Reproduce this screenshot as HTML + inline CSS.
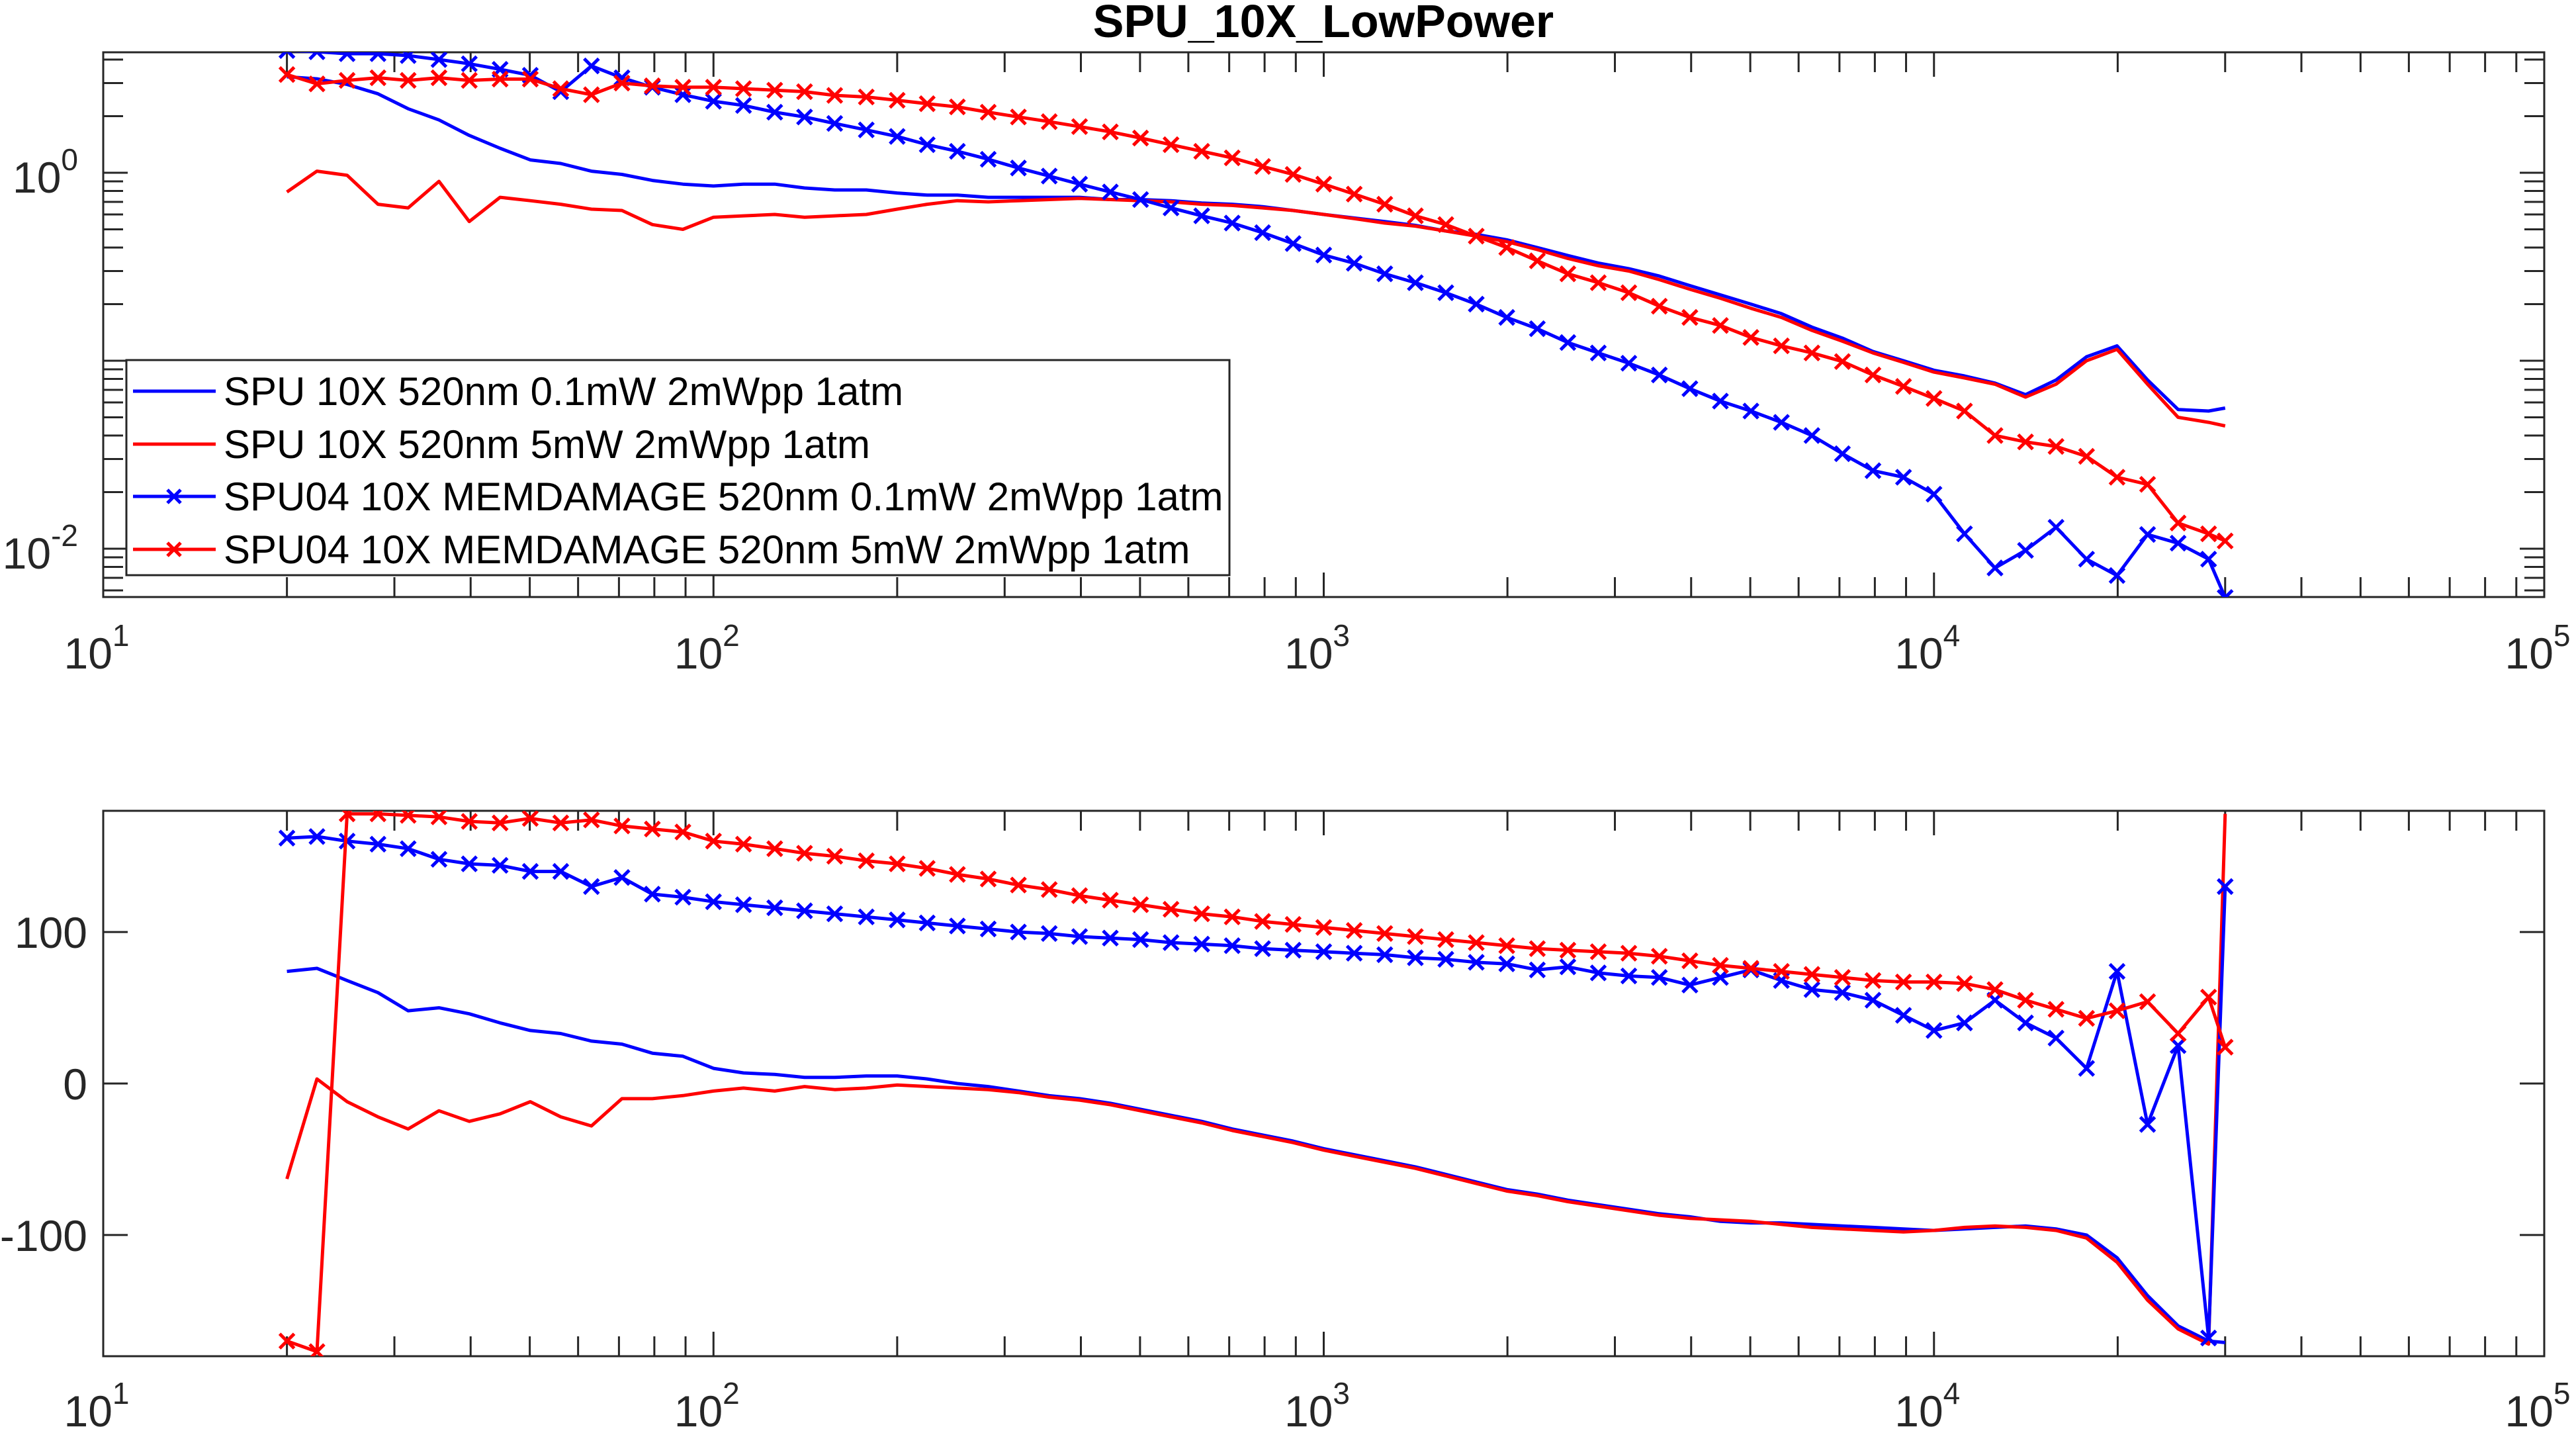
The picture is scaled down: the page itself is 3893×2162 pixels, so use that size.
<!DOCTYPE html>
<html><head><meta charset="utf-8">
<style>
html,body{margin:0;padding:0;background:#fff;}
svg{display:block;font-family:"Liberation Sans",Arial,sans-serif;}
</style></head>
<body>
<svg id="chart" width="3893" height="2162" viewBox="0 0 3893 2162" xmlns="http://www.w3.org/2000/svg">
<rect width="3893" height="2162" fill="#fff"/>
<text x="2000" y="56" font-size="70" font-weight="bold" text-anchor="middle" fill="#000">SPU_10X_LowPower</text>
<defs>
<clipPath id="clipTop"><rect x="156" y="79" width="3689" height="823"/></clipPath>
<clipPath id="clipBot"><rect x="156" y="1225" width="3689" height="824"/></clipPath>
</defs>
<g id="axTop"></g>
<g id="axBot"></g>
<g id="linesTop" clip-path="url(#clipTop)"></g>
<g id="linesBot" clip-path="url(#clipBot)"></g>
<g id="legend">
  <rect x="191" y="544" width="1667" height="325" fill="#fff" stroke="#262626" stroke-width="3"/>
  <g>
    <line x1="201" y1="591" x2="326" y2="591" stroke="#0000ff" stroke-width="5"/>
    <text x="338" y="612" font-size="60" fill="#000">SPU 10X 520nm 0.1mW 2mWpp 1atm</text>
  </g>
  <g>
    <line x1="201" y1="671" x2="326" y2="671" stroke="#ff0000" stroke-width="5"/>
    <text x="338" y="692" font-size="60" fill="#000">SPU 10X 520nm 5mW 2mWpp 1atm</text>
  </g>
  <g>
    <line x1="201" y1="750" x2="326" y2="750" stroke="#0000ff" stroke-width="5"/>
    <path d="M253,740 L273,760 M273,740 L253,760" stroke="#0000ff" stroke-width="5"/>
    <text x="338" y="771" font-size="60" fill="#000">SPU04 10X MEMDAMAGE 520nm 0.1mW 2mWpp 1atm</text>
  </g>
  <g>
    <line x1="201" y1="830" x2="326" y2="830" stroke="#ff0000" stroke-width="5"/>
    <path d="M253,820 L273,840 M273,820 L253,840" stroke="#ff0000" stroke-width="5"/>
    <text x="338" y="851" font-size="60" fill="#000">SPU04 10X MEMDAMAGE 520nm 5mW 2mWpp 1atm</text>
  </g>
</g>
</svg>
<script>
const freqs=[20,22.4,25.1,28.2,31.6,35.5,39.8,44.7,50.1,56.2,63.1,70.8,79.4,89.1,100,112,126,141,158,178,200,224,251,282,316,355,398,447,501,562,631,708,794,891,1000,1122,1259,1413,1585,1778,1995,2239,2512,2818,3162,3548,3981,4467,5012,5623,6310,7079,7943,8913,10000,11220,12589,14125,15849,17783,19953,22387,25119,28184,30000];
const magSpu01=[3.24,3.16,2.95,2.63,2.19,1.91,1.58,1.35,1.17,1.12,1.02,0.98,0.91,0.87,0.85,0.87,0.87,0.83,0.81,0.81,0.78,0.76,0.76,0.74,0.74,0.74,0.74,0.72,0.72,0.71,0.69,0.68,0.66,0.63,0.60,0.575,0.55,0.525,0.49,0.47,0.44,0.40,0.363,0.331,0.309,0.282,0.251,0.224,0.2,0.178,0.151,0.132,0.112,0.1,0.089,0.083,0.076,0.066,0.079,0.105,0.12,0.079,0.055,0.054,0.056];
const magSpu5=[0.79,1.02,0.97,0.68,0.65,0.9,0.55,0.74,0.71,0.68,0.64,0.63,0.53,0.50,0.58,0.59,0.60,0.58,0.59,0.60,0.64,0.68,0.71,0.70,0.71,0.72,0.73,0.72,0.71,0.70,0.68,0.67,0.65,0.63,0.60,0.57,0.54,0.52,0.49,0.46,0.43,0.39,0.35,0.32,0.30,0.27,0.24,0.215,0.19,0.17,0.145,0.127,0.11,0.098,0.087,0.081,0.075,0.064,0.075,0.1,0.115,0.075,0.05,0.047,0.045];
const magSpu04_01=[4.47,4.4,4.3,4.3,4.2,4.0,3.8,3.55,3.3,2.7,3.7,3.2,2.85,2.6,2.4,2.28,2.1,1.98,1.83,1.69,1.56,1.41,1.3,1.18,1.06,0.96,0.87,0.79,0.72,0.65,0.59,0.54,0.48,0.42,0.365,0.33,0.29,0.26,0.23,0.2,0.17,0.148,0.125,0.11,0.097,0.084,0.071,0.061,0.054,0.047,0.04,0.032,0.026,0.024,0.0195,0.012,0.0079,0.0098,0.013,0.0088,0.0072,0.0119,0.0107,0.0088,0.0055];
const magSpu04_5=[3.33,2.97,3.1,3.2,3.1,3.2,3.1,3.15,3.15,2.8,2.6,3.0,2.9,2.85,2.85,2.8,2.75,2.7,2.58,2.53,2.43,2.33,2.24,2.1,1.98,1.87,1.76,1.65,1.53,1.41,1.3,1.2,1.08,0.98,0.87,0.77,0.68,0.59,0.53,0.46,0.4,0.34,0.29,0.26,0.23,0.195,0.17,0.154,0.133,0.12,0.11,0.099,0.084,0.073,0.063,0.054,0.04,0.037,0.035,0.031,0.024,0.022,0.0137,0.012,0.011];
const phSpu01=[74,76,68,60,48,50,46,40,35,33,28,26,20,18,10,7,6,4,4,5,5,3,0,-2,-5,-8,-10,-13,-17,-21,-25,-30,-34,-38,-43,-47,-51,-55,-60,-65,-70,-73,-77,-80,-83,-86,-88,-91,-92,-92,-93,-94,-95,-96,-97,-96,-95,-94,-96,-100,-115,-140,-160,-170,-171];
const phSpu5=[-63,3,-12,-22,-30,-18,-25,-20,-12,-22,-28,-10,-10,-8,-5,-3,-5,-2,-4,-3,-1,-2,-3,-4,-6,-9,-11,-14,-18,-22,-26,-31,-35,-39,-44,-48,-52,-56,-61,-66,-71,-74,-78,-81,-84,-87,-89,-90,-91,-93,-95,-96,-97,-98,-97,-95,-94,-95,-97,-102,-118,-143,-162,-172,178];
const phSpu04_01=[162,163,160,158,155,148,145,144,140,140,130,136,125,123,120,118,116,114,112,110,108,106,104,102,100,99,97,96,95,93,92,91,89,88,87,86,85,83,82,80,79,75,77,73,71,70,65,70,75,68,62,60,55,45,35,40,55,40,30,10,74,-27,25,-168,130];
const phSpu04_5=[-170,-177,178,178,177,176,173,172,175,172,174,170,168,166,160,158,155,152,150,147,145,142,138,135,131,128,124,121,118,115,112,110,107,105,103,101,99,97,95,93,91,89,88,87,86,84,81,78,76,74,72,70,68,67,67,66,62,55,49,43,48,54,33,57,24];
const xTickExps=[1,2,3,4,5];
const magTickExps=[-2,0];
const phTicks=[-100,0,100];

const NS="http://www.w3.org/2000/svg";
const X0=156,X1=3845,TOP0=79,TOP1=902,BOT0=1225,BOT1=2049;
const xs=f=>X0+(Math.log10(f)-1)/4*(X1-X0);
const yMag=v=>261-(Math.log10(v))*284;
const yPh=v=>BOT0+(180-v)/360*(BOT1-BOT0);
function mk(tag,attrs,parent){const e=document.createElementNS(NS,tag);for(const k in attrs)e.setAttribute(k,attrs[k]);parent.appendChild(e);return e;}
const C="#262626";

function axes(g,y0,y1){
  const box=mk('rect',{x:X0,y:y0,width:X1-X0,height:y1-y0,fill:'none',stroke:C,'stroke-width':3},g);
  
  
  for(let d=1;d<5;d++){for(let m=1;m<10;m++){const f=m*Math.pow(10,d);const x=xs(f);const L=m===1?37:30;
    mk('line',{x1:x,y1:y1,x2:x,y2:y1-L,stroke:C,'stroke-width':3},g);
    mk('line',{x1:x,y1:y0,x2:x,y2:y0+L,stroke:C,'stroke-width':3},g);}}
  xTickExps.forEach(e=>{const x=xs(Math.pow(10,e));
    const t=mk('text',{x:x-10,y:y1+(y0<1000?108:106),'font-size':66,'text-anchor':'middle',fill:C},g);
    
    
    t.textContent='10';const s=mk('tspan',{dy:-34,'font-size':46},t);s.textContent=e;});
}
const gT=document.getElementById('axTop');
axes(gT,TOP0,TOP1);
for(let e=-3;e<1;e++){for(let m=1;m<10;m++){const v=m*Math.pow(10,e);const y=yMag(v);if(y<TOP0||y>TOP1)continue;const L=m===1?37:30;
  mk('line',{x1:X0,y1:y,x2:X0+L,y2:y,stroke:C,'stroke-width':3},gT);
  mk('line',{x1:X1,y1:y,x2:X1-L,y2:y,stroke:C,'stroke-width':3},gT);}}
magTickExps.forEach(e=>{const y=yMag(Math.pow(10,e));
  const t=mk('text',{x:118,y:y+30,'font-size':66,'text-anchor':'end',fill:C},gT);
  
  
  t.textContent='10';
  const s=mk('tspan',{dy:-34,'font-size':46},t);s.textContent=e;});
const gB=document.getElementById('axBot');
axes(gB,BOT0,BOT1);
phTicks.forEach(v=>{const y=yPh(v);
  mk('line',{x1:X0,y1:y,x2:X0+37,y2:y,stroke:C,'stroke-width':3},gB);
  mk('line',{x1:X1,y1:y,x2:X1-37,y2:y,stroke:C,'stroke-width':3},gB);
  const t=mk('text',{x:132,y:y+24,'font-size':66,'text-anchor':'end',fill:C},gB);
  
  
  t.textContent=String(v);});

function series(g,vals,yf,color,marker,name){
  const pts=freqs.map((f,i)=>[xs(f),yf(vals[i])]);
  const p=mk('polyline',{points:pts.map(p=>p[0].toFixed(1)+','+p[1].toFixed(1)).join(' '),fill:'none',stroke:color,'stroke-width':5,'stroke-linejoin':'round'},g);
  
  
  if(marker){pts.forEach(([x,y])=>{const m=mk('path',{d:`M${x-11},${y-11}L${x+11},${y+11}M${x+11},${y-11}L${x-11},${y+11}`,stroke:color,'stroke-width':5},g);
    
    });}
}
const lT=document.getElementById('linesTop'),lB=document.getElementById('linesBot');
series(lT,magSpu01,yMag,'#0000ff',false,'mag-spu-01mw');
series(lT,magSpu5,yMag,'#ff0000',false,'mag-spu-5mw');
series(lT,magSpu04_01,yMag,'#0000ff',true,'mag-spu04-01mw');
series(lT,magSpu04_5,yMag,'#ff0000',true,'mag-spu04-5mw');
series(lB,phSpu01,yPh,'#0000ff',false,'phase-spu-01mw');
series(lB,phSpu5,yPh,'#ff0000',false,'phase-spu-5mw');
series(lB,phSpu04_01,yPh,'#0000ff',true,'phase-spu04-01mw');
series(lB,phSpu04_5,yPh,'#ff0000',true,'phase-spu04-5mw');
document.getElementById('chart').appendChild(document.getElementById('legend'));
</script>
</body></html>
